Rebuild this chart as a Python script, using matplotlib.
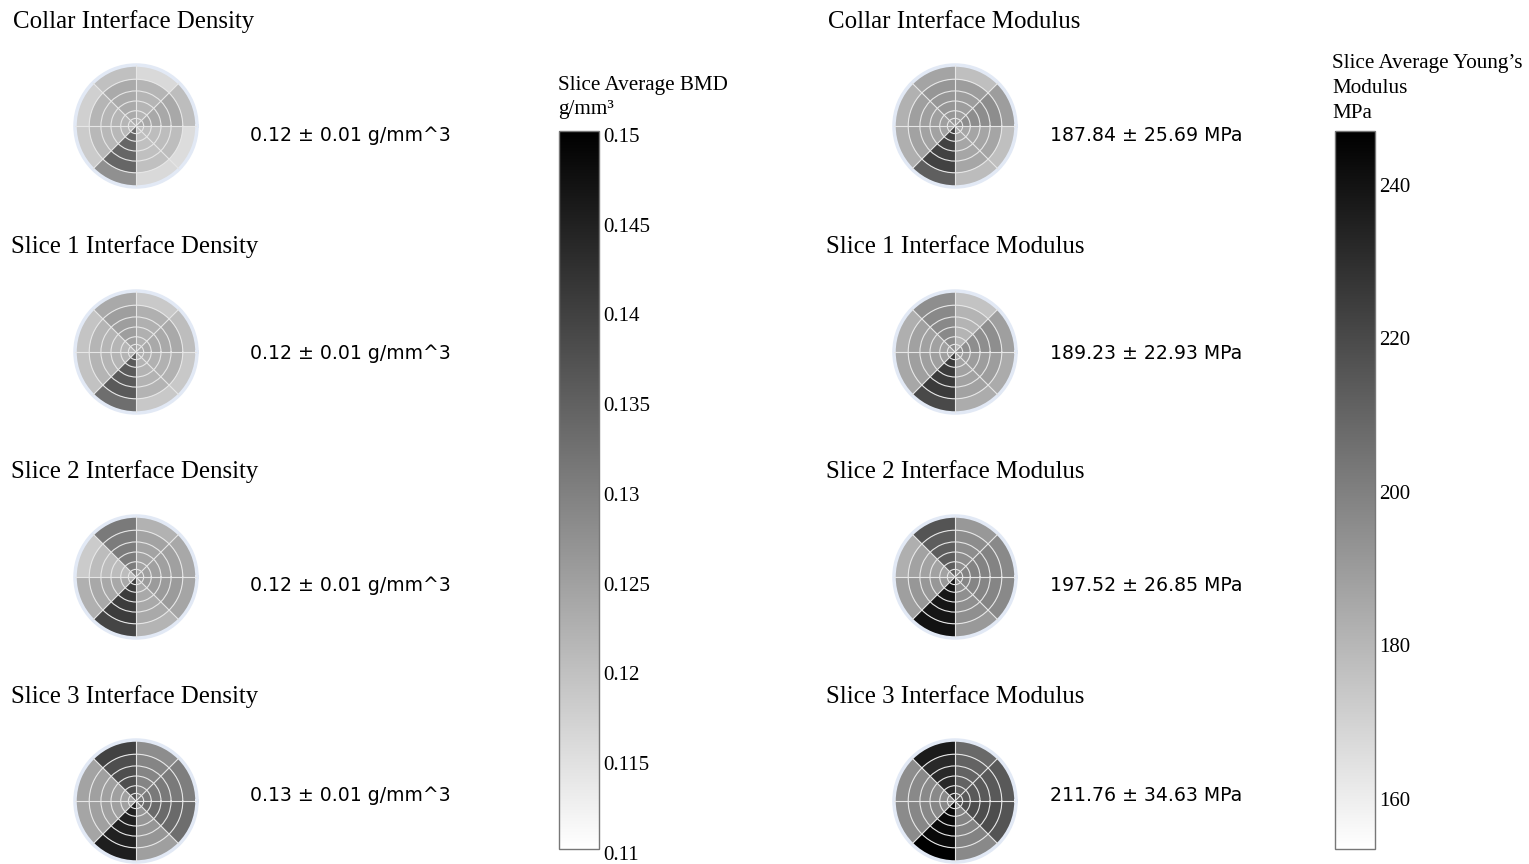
import numpy as np
import matplotlib
matplotlib.use("Agg")
import matplotlib.pyplot as plt
from matplotlib.colors import LinearSegmentedColormap, Normalize
from matplotlib.cm import ScalarMappable
from matplotlib.transforms import ScaledTranslation

W, H = 1529, 864

# sector values, counter-clockwise from east (0-45, 45-90, ... 315-360 deg)
dens_titles = ["Collar Interface Density", "Slice 1 Interface Density",
               "Slice 2 Interface Density", "Slice 3 Interface Density"]
dens_labels = ["0.12 ± 0.01 g/mm^3", "0.12 ± 0.01 g/mm^3",
               "0.12 ± 0.01 g/mm^3", "0.13 ± 0.01 g/mm^3"]
dens_inner = [
    [0.1236, 0.1216, 0.1233, 0.1216, 0.1211, 0.1340, 0.1199, 0.1204],
    [0.1235, 0.1224, 0.1252, 0.1216, 0.1218, 0.1359, 0.1219, 0.1222],
    [0.1249, 0.1244, 0.1305, 0.1205, 0.1236, 0.1406, 0.1235, 0.1257],
    [0.1309, 0.1291, 0.1378, 0.1249, 0.1249, 0.1447, 0.1265, 0.1334],
]
dens_outer = [
    [0.1204, 0.1160, 0.1199, 0.1175, 0.1182, 0.1274, 0.1160, 0.1155],
    [0.1204, 0.1185, 0.1235, 0.1193, 0.1196, 0.1327, 0.1186, 0.1186],
    [0.1236, 0.1221, 0.1309, 0.1182, 0.1224, 0.1392, 0.1218, 0.1241],
    [0.1302, 0.1279, 0.1396, 0.1244, 0.1241, 0.1453, 0.1251, 0.1327],
]

mod_titles = ["Collar Interface Modulus", "Slice 1 Interface Modulus",
              "Slice 2 Interface Modulus", "Slice 3 Interface Modulus"]
mod_labels = ["187.84 ± 25.69 MPa", "189.23 ± 22.93 MPa",
              "197.52 ± 26.85 MPa", "211.76 ± 34.63 MPa"]
mod_inner = [
    [194.8, 189.0, 191.5, 188.2, 187.1, 222.3, 185.7, 186.0],
    [194.5, 180.5, 196.3, 187.5, 188.2, 224.9, 187.1, 189.0],
    [198.5, 194.8, 212.4, 187.1, 191.2, 238.1, 194.1, 197.8],
    [213.9, 210.2, 231.5, 196.3, 197.0, 243.2, 198.5, 218.3],
]
mod_outer = [
    [189.0, 176.5, 186.4, 181.6, 182.4, 211.7, 177.6, 176.5],
    [188.2, 175.0, 194.5, 182.4, 185.3, 219.8, 183.5, 183.8],
    [196.3, 190.8, 215.7, 182.4, 188.2, 239.6, 190.4, 196.3],
    [213.9, 208.0, 236.6, 194.8, 195.6, 246.2, 196.3, 215.7],
]

dens_range = (0.11, 0.15)
dens_ticks = [0.11, 0.115, 0.12, 0.125, 0.13, 0.135, 0.14, 0.145, 0.15]
dens_ticklabels = ["0.11", "0.115", "0.12", "0.125", "0.13", "0.135", "0.14", "0.145", "0.15"]
mod_range = (152.9, 246.5)
mod_ticks = [160, 180, 200, 220, 240]

cmap = LinearSegmentedColormap.from_list("wb", ["#ffffff", "#000000"])
serif = "Liberation Serif"

fig = plt.figure(figsize=(W / 100, H / 100), dpi=100)


def rect(x0, y0, w, h):
    # pixel box (top-left origin) -> figure fraction
    return [x0 / W, 1 - (y0 + h) / H, w / W, h / H]


def px_text(x, y, s, **kw):
    fig.text(x / W, 1 - y / H, s, **kw)


rings = [0.125, 0.25, 0.41, 0.575, 0.767]
r_in = 0.767
theta = np.arange(8) * np.pi / 4 + np.pi / 8


def pie(cx, cy, inner, outer, norm):
    R = 61
    ax = fig.add_axes(rect(cx - R, cy - R, 2 * R, 2 * R), projection="polar")
    ax.bar(theta, r_in, width=np.pi / 4, bottom=0,
           color=cmap(norm(np.array(inner))), linewidth=0)
    ax.bar(theta, 1 - r_in, width=np.pi / 4, bottom=r_in,
           color=cmap(norm(np.array(outer))), linewidth=0)
    ax.set_ylim(0, 1)
    ax.set_yticks(rings)
    ax.set_yticklabels([])
    ax.set_xticks(np.arange(8) * np.pi / 4)
    ax.set_xticklabels([])
    ax.grid(True, color="#e6e6e6", linewidth=0.8)
    ax.set_axisbelow(False)
    ax.tick_params(length=0)
    ax.spines["polar"].set_color("#e2e9f5")
    ax.spines["polar"].set_linewidth(2.5)
    ax.set_facecolor("#e5ecf6")


ys = [126, 352, 577, 801]
title_y = [28, 253, 478, 703]
label_y = [141, 359, 591, 801]

dnorm = Normalize(*dens_range)
mnorm = Normalize(*mod_range)

for i in range(4):
    px_text(13 if i == 0 else 11, title_y[i], dens_titles[i], family=serif,
            fontsize=17.9, va="baseline")
    pie(136, ys[i], dens_inner[i], dens_outer[i], dnorm)
    px_text(250, label_y[i], dens_labels[i], family="DejaVu Sans",
            fontsize=13.6, va="baseline")

    px_text(828 if i == 0 else 826, title_y[i], mod_titles[i], family=serif,
            fontsize=17.9, va="baseline")
    pie(955, ys[i], mod_inner[i], mod_outer[i], mnorm)
    px_text(1050, label_y[i], mod_labels[i], family="DejaVu Sans",
            fontsize=13.6, va="baseline")


def colorbar(x0, norm, ticks, ticklabels):
    cax = fig.add_axes(rect(x0, 131, 40, 718))
    cb = fig.colorbar(ScalarMappable(norm=norm, cmap=cmap), cax=cax)
    cb.set_ticks(ticks)
    cb.set_ticklabels(ticklabels)
    cb.outline.set_edgecolor("#777777")
    cb.outline.set_linewidth(1)
    cax.tick_params(length=0, pad=3, labelsize=15)
    shift = ScaledTranslation(0, -4 / 100, fig.dpi_scale_trans)
    for t in cax.get_yticklabels():
        t.set_family(serif)
        t.set_transform(t.get_transform() + shift)
    return cb


colorbar(559, dnorm, dens_ticks, dens_ticklabels)
px_text(558, 90, "Slice Average BMD", family=serif, fontsize=15.2, va="baseline")
px_text(558, 114, "g/mm³", family=serif, fontsize=15.2, va="baseline")

colorbar(1335, mnorm, mod_ticks, [str(t) for t in mod_ticks])
px_text(1332, 68, "Slice Average Young’s", family=serif, fontsize=15.2, va="baseline")
px_text(1332, 93, "Modulus", family=serif, fontsize=15.2, va="baseline")
px_text(1332, 118, "MPa", family=serif, fontsize=15.2, va="baseline")

fig.savefig("out.png", dpi=100, facecolor="white")
